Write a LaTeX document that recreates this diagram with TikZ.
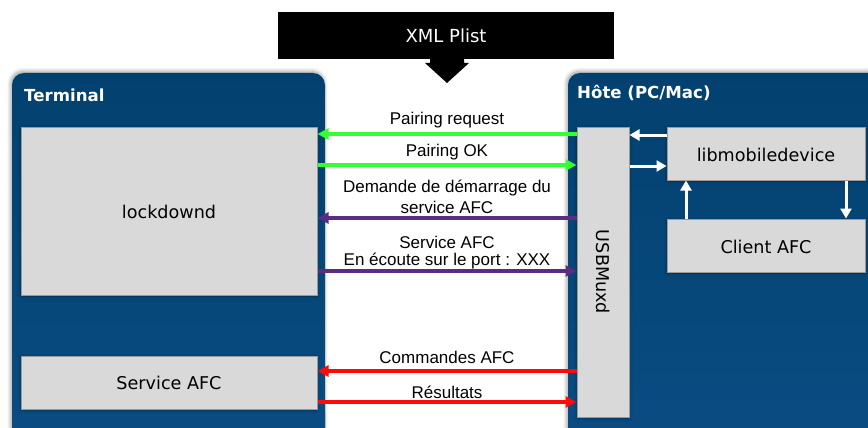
\documentclass[tikz,border=0pt]{standalone}
\usepackage{fontspec}
\setmainfont{DejaVu Sans}
\newfontfamily\labelfont{Liberation Sans}
\usetikzlibrary{arrows.meta,shadows.blur}

\definecolor{panelblue}{HTML}{02416F}
\definecolor{panelbluelow}{HTML}{0A4C82}
\definecolor{boxgray}{HTML}{D9D9D9}
\definecolor{boxedge}{HTML}{9A9A9A}
\definecolor{pairgreen}{HTML}{33FF33}
\definecolor{afcpurple}{HTML}{5A2D82}
\definecolor{afcred}{HTML}{FF0A0A}

\tikzset{
  panel/.style={rounded corners=12pt, top color=panelblue, bottom color=panelbluelow,
    blur shadow={shadow xshift=-1pt, shadow yshift=1.5pt, shadow blur steps=8, shadow blur radius=4pt}},
  paneltitle/.style={anchor=west, text=white, font=\bfseries\fontsize{16.6}{20}\selectfont, inner sep=0pt},
  graybox/.style={draw=boxedge, line width=1pt, fill=boxgray, inner sep=0pt,
    blur shadow={shadow xshift=0pt, shadow yshift=-1pt, shadow blur steps=5, shadow blur radius=3pt}},
  boxtext/.style={font=\fontsize{17.6}{20}\selectfont},
  msg/.style={line width=3.6pt, -{Triangle[length=11pt,width=11pt]}},
  hostlink/.style={draw=white, line width=3pt, -{Triangle[length=10pt,width=11pt]}},
  msglabel/.style={font=\labelfont\fontsize{17}{20}\selectfont, inner sep=0pt, align=center},
}

\begin{document}
\begin{tikzpicture}[x=1pt, y=-1pt]
  \useasboundingbox (0,0) rectangle (868,428);

  % side panels
  \path[panel] (12,440) -- (12,73) -- (325,73) -- (325,440) -- cycle;
  \path[panel] (568,440) -- (568,73) -- (880,73) -- (880,440) -- cycle;
  \fill[white] (0,428) rectangle (868,445);
  \begin{scope}
    \clip (0,0) rectangle (868,428);
    \fill[panelbluelow, rounded corners=12pt] (12,400) rectangle (325,440);
    \fill[panelbluelow, rounded corners=12pt] (568,400) rectangle (880,440);
  \end{scope}
  \node[paneltitle] (termtitle) at (24,95) {Terminal};
  \node[paneltitle] (hosttitle) at (577,93) {Hôte (PC/Mac)};

  % XML Plist banner with its arrow
  \node[fill=black, text=white, minimum width=336pt, minimum height=47pt, inner sep=0pt,
        font=\fontsize{18}{21}\selectfont] (plist) at (446,35.5) {XML Plist};
  \fill[black] (430,58) -- (464,58) -- (464,63) -- (469,63) -- (447,83) -- (425,63) -- (430,63) -- cycle;

  % device side
  \node[graybox, minimum width=296pt, minimum height=168pt] (lock) at (169,211) {};
  \node[boxtext] (locktext) at (169,212) {lockdownd};
  \node[graybox, minimum width=296pt, minimum height=53pt] (svc) at (169,382.5) {};
  \node[boxtext] (svctext) at (169,383) {Service AFC};

  % host side
  \node[graybox, minimum width=52pt, minimum height=290pt] (usb) at (603,272) {};
  \node[boxtext, rotate=-90] (usbtext) at (603,272) {USBMuxd};
  \node[graybox, minimum width=198pt, minimum height=53pt] (lib) at (766,153.5) {};
  \node[boxtext] (libtext) at (766,155) {libmobiledevice};
  \node[graybox, minimum width=198pt, minimum height=53pt] (client) at (766,245.5) {};
  \node[boxtext] (clienttext) at (766,247) {Client AFC};

  % links inside the host
  \draw[hostlink] (lib.west |- 0,135) -- (usb.east |- 0,135);
  \draw[hostlink] (usb.east |- 0,166) -- (lib.west |- 0,166);
  \draw[hostlink] (client.north -| 686,0) -- (lib.south -| 686,0);
  \draw[hostlink] (lib.south -| 846,0) -- (client.north -| 846,0);

  % messages between device and host
  \draw[msg, pairgreen] (usb.west |- 0,134) -- (lock.east |- 0,134);
  \draw[msg, pairgreen] (lock.east |- 0,165) -- (usb.west |- 0,165);
  \draw[msg, afcpurple] (usb.west |- 0,218) -- (lock.east |- 0,218);
  \draw[msg, afcpurple] (lock.east |- 0,271) -- (usb.west |- 0,271);
  \draw[msg, afcred] (usb.west |- 0,371) -- (svc.east |- 0,371);
  \draw[msg, afcred] (svc.east |- 0,402) -- (usb.west |- 0,402);

  \node[msglabel] (l1) at (447,120) {Pairing request};
  \node[msglabel] (l2) at (447,152) {Pairing OK};
  \node[msglabel] (l3) at (447,188) {Demande de démarrage du};
  \node[msglabel] (l3b) at (447,207) {service AFC};
  \node[msglabel] (l4) at (447,242) {Service AFC};
  \node[msglabel] (l4b) at (447,261) {En écoute sur le port : XXX};
  \node[msglabel] (l5) at (447,357) {Commandes AFC};
  \node[msglabel] (l6) at (447,392) {Résultats};
\end{tikzpicture}
\end{document}
